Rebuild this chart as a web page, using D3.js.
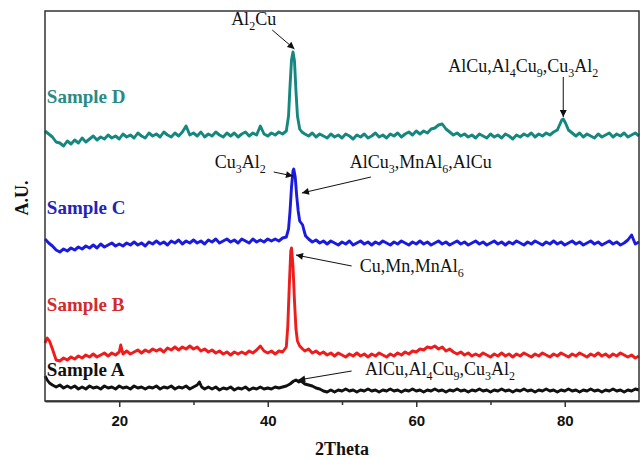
<!DOCTYPE html>
<head>
  <meta charset="utf-8">
  <style>
    body { margin: 0; background: #fff; }
    svg .frame { fill: none; stroke: #333; stroke-width: 1.5px; }
    svg .trace { fill: none; stroke-width: 2.9px; stroke-linejoin: round; }
    svg .note { font: 18px "Liberation Serif", serif; fill: #111; }
    svg .sample { font: bold 19px "Liberation Serif", serif; }
    svg .title { font: bold 18px "Liberation Serif", serif; fill: #111; }
    svg .x-axis .tick text { font: bold 15px "Liberation Sans", Arial, sans-serif; fill: #111; }
    svg .x-axis path, svg .x-axis line { stroke: #333; stroke-width: 1.5px; }
  </style>
</head>
<body>
<script src="https://d3js.org/d3.v7.min.js"></script>
<script>
  // plot box inside the 642 x 459 window
  var box = { left: 45, right: 639, top: 11, bottom: 401 };

  var xmin = 10, xmax = 90,      // 2Theta
      ymin = 0,   ymax = 390;    // A.U.

  // ---- data: [2Theta, intensity] (noise roughly traced) ----
  var sampleA = [[10,25],[10.3,21],[10.6,18],[11,16],[11.5,14],[12,16],[12.5,13],[13,15],[13.5,13],[14,15],[14.5,12],
    [15,14],[15.5,12],[16,15],[16.5,13],[17,14],[17.5,12],[18,15],[18.5,13],[19,14],[19.5,12],
    [20,15],[20.5,13],[21,14],[21.5,12],[22,15],[22.5,13],[23,14],[23.5,12],[24,14],[24.5,13],
    [25,15],[25.5,12],[26,14],[26.5,13],[27,15],[27.5,12],[28,14],[28.5,13],[29,15],[29.5,12],
    [30,14],[30.5,16],[30.8,19],[31.1,14],[31.5,12],[32,14],[32.5,12],[33,14],[33.5,11],[34,13],[34.5,12],
    [35,14],[35.5,11],[36,13],[36.5,12],[37,14],[37.5,11],[38,13],[38.5,12],[39,14],[39.5,12],
    [40,13],[40.5,12],[41,14],[41.5,13],[42,14],[42.5,15],[43,17],[43.5,20],[43.8,21],[44.2,19],[44.5,20],
    [45,17],[45.5,16],[46,15],[46.5,13],[47,12],[47.5,10],[48,9],[48.5,11],[49,9],[49.5,11],
    [50,10],[50.5,12],[51,10],[51.5,11],[52,9],[52.5,11],[53,10],[53.5,12],[54,10],[54.5,11],
    [55,9],[55.5,11],[56,10],[56.5,12],[57,10],[57.5,11],[58,9],[58.5,11],[59,10],[59.5,12],
    [60,10],[60.5,11],[61,9],[61.5,11],[62,10],[62.5,12],[63,10],[63.5,11],[64,9],[64.5,11],
    [65,10],[65.5,12],[66,10],[66.5,11],[67,9],[67.5,11],[68,10],[68.5,12],[69,10],[69.5,11],
    [70,9],[70.5,11],[71,10],[71.5,12],[72,10],[72.5,11],[73,9],[73.5,11],[74,10],[74.5,12],
    [75,10],[75.5,11],[76,9],[76.5,11],[77,10],[77.5,12],[78,10],[78.5,11],[79,9],[79.5,11],
    [80,10],[80.5,12],[81,10],[81.5,11],[82,9],[82.5,11],[83,10],[83.5,12],[84,10],[84.5,11],
    [85,9],[85.5,11],[86,10],[86.5,12],[87,10],[87.5,11],[88,9],[88.5,11],[89,10],[89.5,12],[90,11]];

  var sampleB = [[10,58],[10.3,63],[10.6,60],[11,52],[11.5,41],[12,40],[12.5,43],[13,41],[13.5,44],[14,42],[14.5,45],
    [15,43],[15.5,46],[16,44],[16.5,47],[17,44],[17.5,46],[18,48],[18.5,45],[19,48],[19.5,46],
    [20,49],[20.2,56],[20.5,47],[21,50],[21.5,47],[22,49],[22.5,51],[23,48],[23.5,51],[24,49],[24.5,52],
    [25,50],[25.5,52],[26,49],[26.5,53],[27,51],[27.5,54],[28,51],[28.5,54],[29,52],[29.5,55],
    [30,52],[30.5,54],[31,50],[31.5,52],[32,49],[32.5,51],[33,48],[33.5,50],[34,47],[34.5,49],
    [35,46],[35.5,49],[36,47],[36.5,49],[37,47],[37.5,50],[38,48],[38.5,51],[39,55],[39.5,50],
    [40,48],[40.5,50],[41,47],[41.5,50],[42,49],[42.5,54],[42.7,75],[42.9,115],[43.1,150],[43.2,153],
    [43.4,135],[43.6,100],[43.8,72],[44,60],[44.3,55],[44.7,52],
    [45,50],[45.5,52],[46,48],[46.5,50],[47,47],[47.5,49],[48,46],[48.5,48],[49,45],[49.5,48],
    [50,46],[50.5,44],[51,47],[51.5,45],[52,48],[52.5,45],[53,47],[53.5,44],[54,47],[54.5,45],
    [55,48],[55.5,46],[56,44],[56.5,47],[57,45],[57.5,48],[58,46],[58.5,49],[59,47],[59.5,50],
    [60,49],[60.5,52],[61,51],[61.5,54],[62,53],[62.5,55],[63,52],[63.5,54],[64,50],[64.5,52],
    [65,49],[65.5,47],[66,49],[66.5,46],[67,48],[67.5,45],[68,47],[68.5,45],[69,48],[69.5,46],
    [70,44],[70.5,47],[71,45],[71.5,48],[72,45],[72.5,47],[73,44],[73.5,47],[74,45],[74.5,48],
    [75,46],[75.5,44],[76,47],[76.5,45],[77,48],[77.5,46],[78,44],[78.5,47],[79,45],[79.5,48],
    [80,46],[80.5,44],[81,47],[81.5,45],[82,48],[82.5,46],[83,44],[83.5,47],[84,45],[84.5,48],
    [85,45],[85.5,47],[86,44],[86.5,47],[87,45],[87.5,48],[88,46],[88.5,44],[89,46],[89.5,43],[90,45]];

  var sampleC = [[10,162],[10.5,158],[11,155],[11.5,151],[12,149],[12.5,152],[13,150],[13.5,153],[14,151],[14.5,154],
    [15,152],[15.5,155],[16,153],[16.5,156],[17,153],[17.5,157],[18,154],[18.5,156],[19,158],[19.5,155],
    [20,157],[20.5,155],[21,158],[21.5,156],[22,159],[22.5,156],[23,158],[23.5,155],[24,159],[24.5,157],
    [25,160],[25.5,157],[26,159],[26.5,156],[27,160],[27.5,158],[28,161],[28.5,157],[29,160],[29.5,158],
    [30,161],[30.5,158],[31,160],[31.5,157],[32,161],[32.5,159],[33,162],[33.5,158],[34,160],[34.5,162],
    [35,159],[35.5,161],[36,158],[36.5,162],[37,160],[37.5,158],[38,162],[38.5,159],[39,161],[39.5,159],
    [40,162],[40.5,160],[41,162],[41.5,160],[42,163],[42.5,164],[42.8,172],[43,190],[43.2,214],[43.4,230],
    [43.5,232],[43.7,224],[43.9,205],[44.1,190],[44.3,180],[44.5,178],[44.7,176],[44.9,170],[45.1,165],[45.5,162],
    [46,159],[46.5,161],[47,158],[47.5,160],[48,157],[48.5,160],[49,158],[49.5,156],
    [50,159],[50.5,157],[51,160],[51.5,156],[52,158],[52.5,160],[53,157],[53.5,159],[54,156],[54.5,159],
    [55,157],[55.5,160],[56,158],[56.5,156],[57,159],[57.5,157],[58,160],[58.5,158],[59,156],[59.5,159],
    [60,157],[60.5,160],[61,157],[61.5,159],[62,156],[62.5,158],[63,160],[63.5,157],[64,159],[64.5,156],
    [65,158],[65.5,160],[66,157],[66.5,159],[67,156],[67.5,158],[68,160],[68.5,157],[69,159],[69.5,156],
    [70,158],[70.5,160],[71,157],[71.5,159],[72,156],[72.5,159],[73,157],[73.5,160],[74,158],[74.5,156],
    [75,159],[75.5,157],[76,160],[76.5,158],[77,156],[77.5,159],[78,157],[78.5,160],[79,157],[79.5,159],
    [80,156],[80.5,158],[81,160],[81.5,157],[82,159],[82.5,156],[83,158],[83.5,160],[84,157],[84.5,159],
    [85,156],[85.5,158],[86,160],[86.5,157],[87,159],[87.5,156],[88,158],[88.5,161],[89,166],[89.5,157],[90,159]];

  var sampleD = [[10,270],[10.5,267],[11,264],[11.5,259],[12,258],[12.5,255],[13,260],[13.5,257],[14,261],[14.5,258],
    [15,263],[15.5,259],[16,262],[16.5,265],[17,261],[17.5,264],[18,262],[18.5,266],[19,263],[19.5,265],
    [20,262],[20.5,267],[21,264],[21.5,266],[22,263],[22.5,268],[23,265],[23.5,263],[24,268],[24.5,265],
    [25,267],[25.5,264],[26,269],[26.5,266],[27,264],[27.5,268],[28,265],[28.5,269],[29,275],[29.5,266],
    [30,268],[30.5,265],[31,269],[31.5,264],[32,267],[32.5,265],[33,269],[33.5,266],[34,264],[34.5,268],
    [35,265],[35.5,268],[36,264],[36.5,267],[37,269],[37.5,265],[38,268],[38.5,266],[39,275],[39.5,267],
    [40,265],[40.5,268],[41,266],[41.5,269],[42,267],[42.5,270],[42.8,285],[43,315],[43.2,341],[43.4,349],
    [43.6,340],[43.8,310],[44,285],[44.3,272],[44.6,269],
    [45,267],[45.5,265],[46,268],[46.5,264],[47,267],[47.5,265],[48,263],[48.5,267],[49,264],[49.5,266],
    [50,263],[50.5,267],[51,265],[51.5,262],[52,266],[52.5,264],[53,267],[53.5,263],[54,265],[54.5,268],
    [55,264],[55.5,266],[56,263],[56.5,267],[57,265],[57.5,268],[58,264],[58.5,267],[59,269],[59.5,266],
    [60,270],[60.5,267],[61,270],[61.5,268],[62,272],[62.5,273],[63,276],[63.5,277],[64,272],[64.5,269],
    [65,266],[65.5,268],[66,265],[66.5,267],[67,264],[67.5,266],[68,263],[68.5,267],[69,265],[69.5,263],
    [70,267],[70.5,264],[71,266],[71.5,263],[72,267],[72.5,265],[73,262],[73.5,266],[74,264],[74.5,267],
    [75,265],[75.5,268],[76,264],[76.5,267],[77,265],[77.5,268],[78,266],[78.5,269],[79,271],[79.3,276],
    [79.6,281],[79.8,282],[80.1,278],[80.5,271],[81,268],
    [81.5,265],[82,268],[82.5,264],[83,267],[83.5,265],[84,263],[84.5,267],[85,264],[85.5,266],[86,268],
    [86.5,264],[87,267],[87.5,265],[88,268],[88.5,264],[89,266],[89.5,268],[90,265]];

  var series = [
    { name: "Sample A", values: sampleA, color: "#111111", label: "#111111", at: [10.25, 25] },
    { name: "Sample B", values: sampleB, color: "#ee1c1c", label: "#d42a2a", at: [10.25, 90] },
    { name: "Sample C", values: sampleC, color: "#1a1ae0", label: "#2323b8", at: [10.25, 187] },
    { name: "Sample D", values: sampleD, color: "#14877e", label: "#2b8a84", at: [10.25, 298] }
  ];

  var xTicks = [20, 40, 60, 80];
  var xMinorTicks = [30, 50, 70];

  // phase labels: text anchor point and arrow (from -> to), in 2Theta / intensity
  var notes = [
    { text: "Al_2Cu",              at: [38.1, 376], from: [40.6, 371], to: [43.6, 352] },
    { text: "AlCu,Al_4Cu_9,Cu_3Al_2", at: [74.4, 329], from: [79.8, 324], to: [79.8, 284] },
    { text: "Cu_3Al_2",            at: [36.3, 233], from: [40.8, 229], to: [43.4, 225] },
    { text: "AlCu_3,MnAl_6,AlCu",  at: [60.6, 233], from: [53.9, 224], to: [44.6, 208] },
    { text: "Cu,Mn,MnAl_6",        at: [59.4, 129], from: [51.3, 135], to: [43.8, 146] },
    { text: "AlCu,Al_4Cu_9,Cu_3Al_2", at: [63.2, 26],  from: [51.3, 30],  to: [44.1, 21] }
  ];

  var svg = d3.select("body").append("svg")
      .attr("width", 642)
      .attr("height", 459);

  var xScale = d3.scaleLinear().domain([xmin, xmax]).range([box.left, box.right]);
  var yScale = d3.scaleLinear().domain([ymin, ymax]).range([box.bottom, box.top]);

  svg.append("defs").append("marker")
      .attr("id", "head")
      .attr("viewBox", "0 0 10 10")
      .attr("refX", 10).attr("refY", 5)
      .attr("markerWidth", 9).attr("markerHeight", 7)
      .attr("markerUnits", "userSpaceOnUse")
      .attr("orient", "auto")
    .append("path")
      .attr("d", "M0,0 L10,5 L0,10 z")
      .style("fill", "#111");

  // traces
  var line = d3.line()
    .x(function (d) { return xScale(d[0]); })
    .y(function (d) { return yScale(d[1]); });

  svg.selectAll("path.trace")
    .data(series)
    .enter().append("path")
      .classed("trace", true)
      .attr("d", function (d) { return line(d.values); })
      .style("stroke", function (d) { return d.color; });

  svg.selectAll("text.sample")
    .data(series)
    .enter().append("text")
      .classed("sample", true)
      .attr("x", function (d) { return xScale(d.at[0]); })
      .attr("y", function (d) { return yScale(d.at[1]); })
      .style("fill", function (d) { return d.label; })
      .text(function (d) { return d.name; });

  // frame
  svg.append("rect")
      .classed("frame", true)
      .attr("x", box.left)
      .attr("y", box.top)
      .attr("width", box.right - box.left)
      .attr("height", box.bottom - box.top);

  // x axis
  var xAxis = d3.axisBottom(xScale)
      .tickValues(xTicks)
      .tickSize(6)
      .tickPadding(8)
      .tickSizeOuter(0);

  svg.append("g")
      .classed("x-axis", true)
      .attr("transform", "translate(0," + box.bottom + ")")
      .call(xAxis);

  svg.append("g")
      .classed("x-axis", true)
      .attr("transform", "translate(0," + box.bottom + ")")
      .call(d3.axisBottom(xScale).tickValues(xMinorTicks).tickSize(4).tickFormat("").tickSizeOuter(0));

  svg.append("text")
      .classed("title", true)
      .attr("x", (box.left + box.right) / 2)
      .attr("y", 455)
      .style("text-anchor", "middle")
      .text("2Theta");

  svg.append("text")
      .classed("title", true)
      .attr("transform", "translate(28,198) rotate(-90)")
      .style("text-anchor", "middle")
      .text("A.U.");

  // annotations with subscripts ("_n")
  var noteText = svg.selectAll("text.note")
    .data(notes)
    .enter().append("text")
      .classed("note", true)
      .attr("x", function (d) { return xScale(d.at[0]); })
      .attr("y", function (d) { return yScale(d.at[1]); })
      .style("text-anchor", "middle");

  noteText.each(function (d) {
    var t = d3.select(this);
    var parts = d.text.split(/(_\d)/);
    var shifted = false;
    parts.forEach(function (p) {
      if (p === "") return;
      if (p.charAt(0) === "_") {
        t.append("tspan").attr("dy", 5).style("font-size", "12px").text(p.slice(1));
        shifted = true;
      } else {
        t.append("tspan").attr("dy", shifted ? -5 : 0).text(p);
        shifted = false;
      }
    });
  });

  svg.selectAll("line.arrow")
    .data(notes)
    .enter().append("line")
      .classed("arrow", true)
      .attr("x1", function (d) { return xScale(d.from[0]); })
      .attr("y1", function (d) { return yScale(d.from[1]); })
      .attr("x2", function (d) { return xScale(d.to[0]); })
      .attr("y2", function (d) { return yScale(d.to[1]); })
      .style("stroke", "#111")
      .style("stroke-width", "1px")
      .attr("marker-end", "url(#head)");
</script>
</body>
</html>
